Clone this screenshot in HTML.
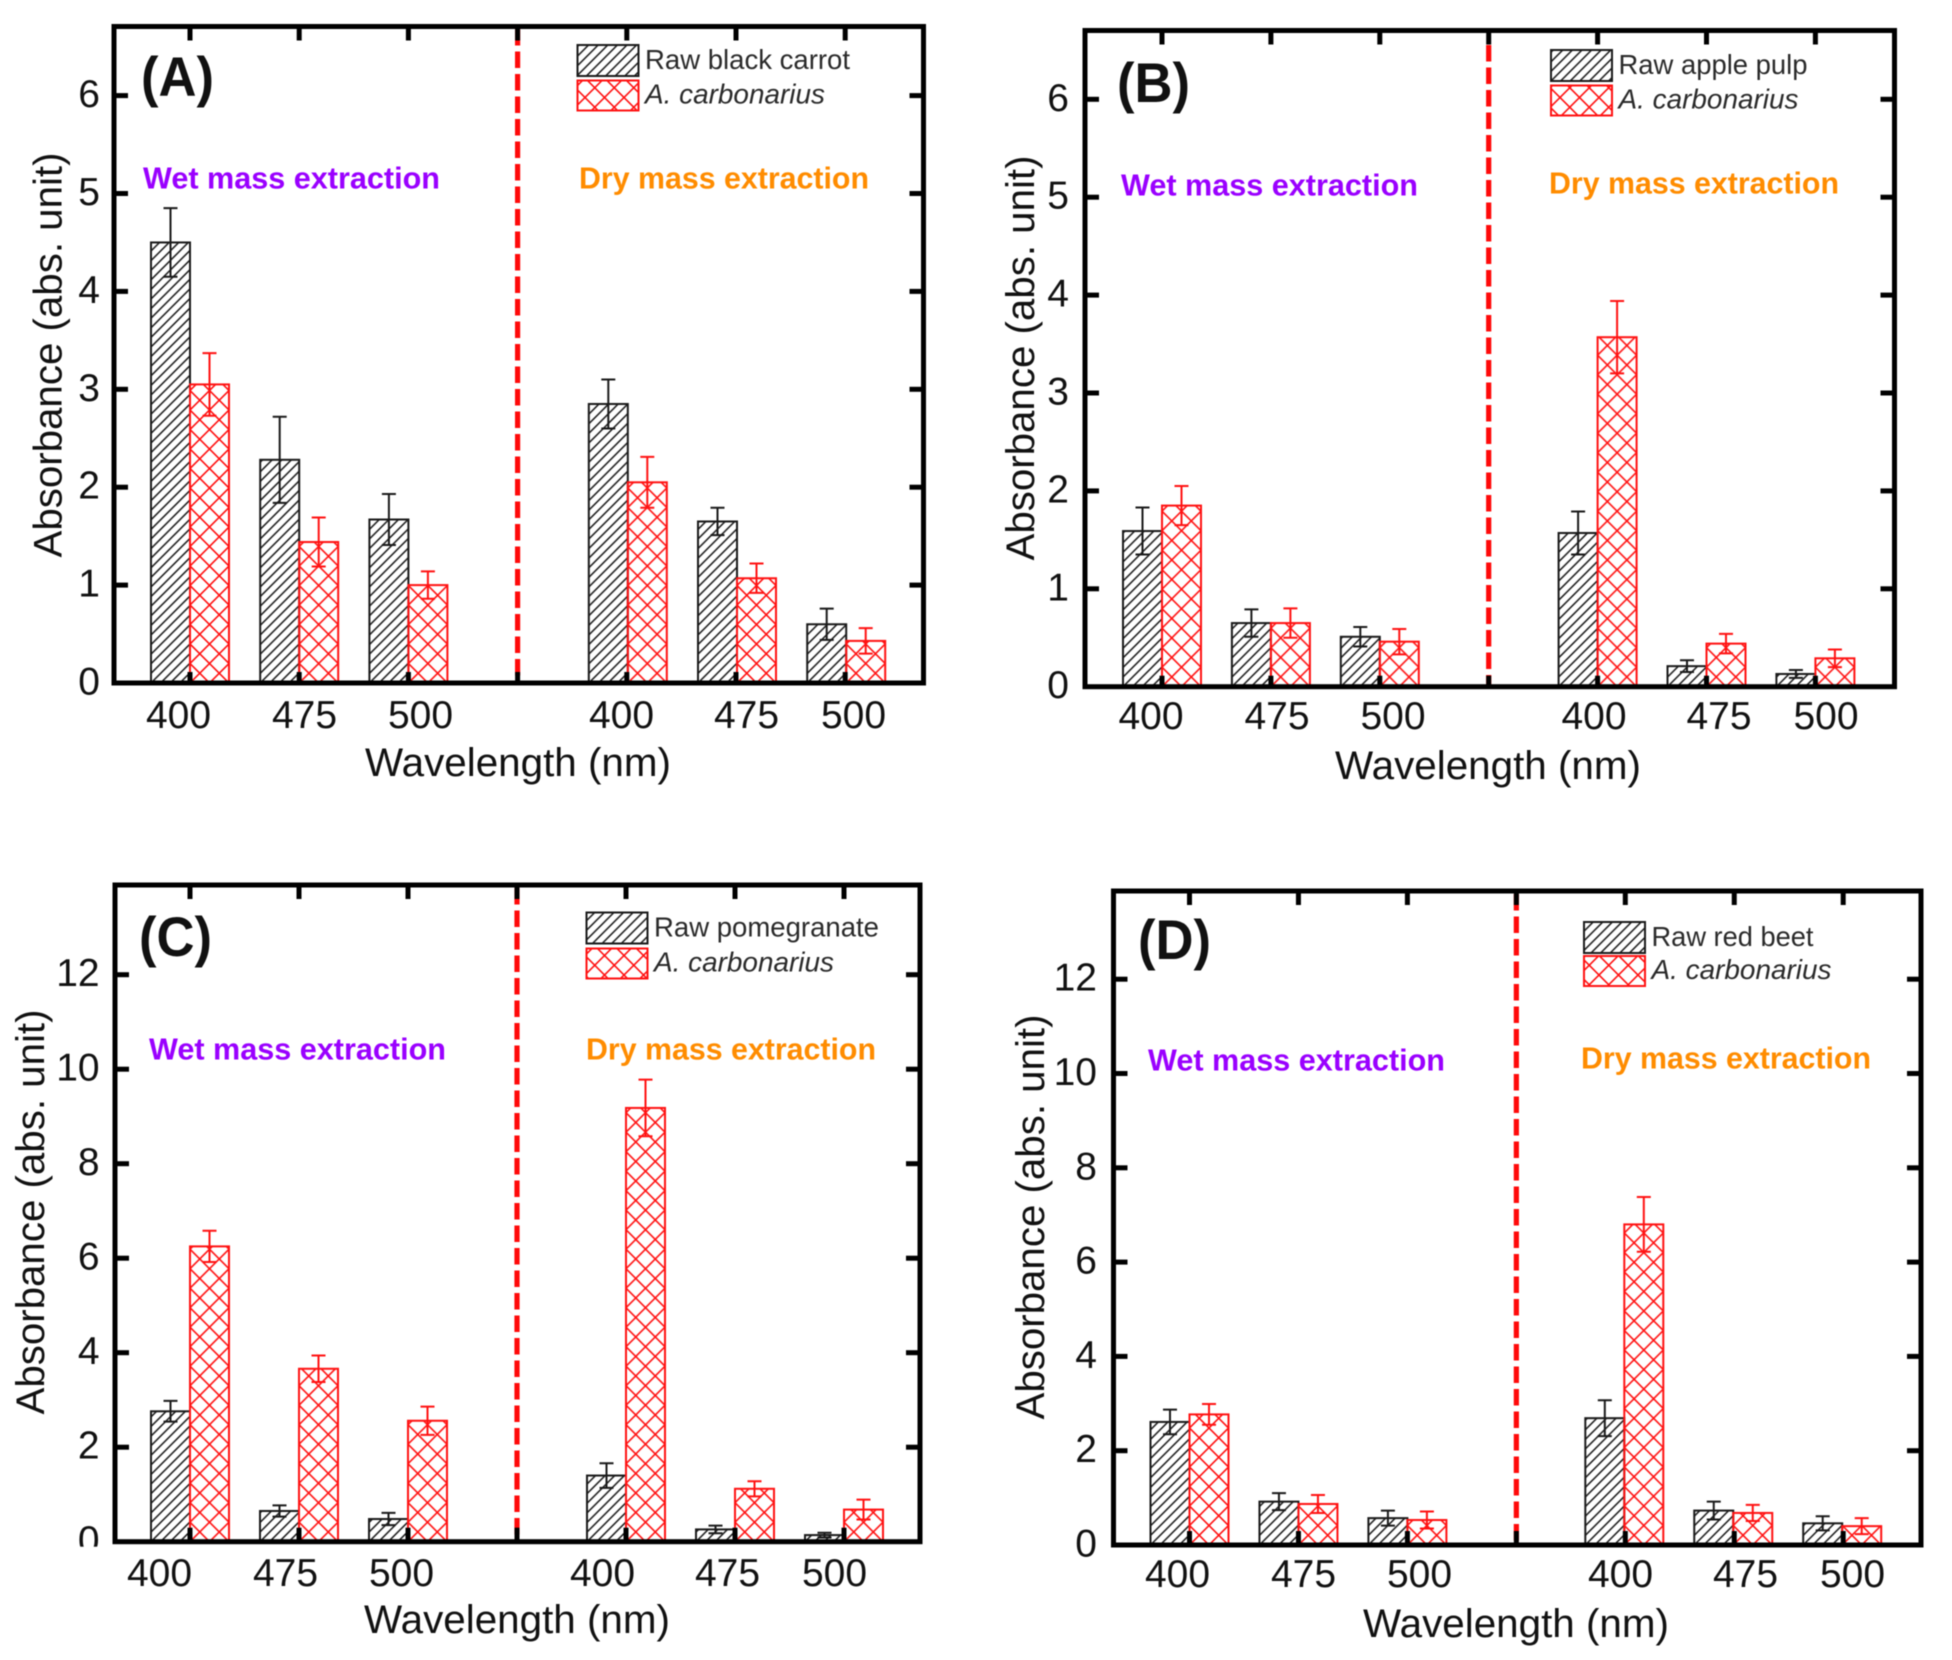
<!DOCTYPE html>
<html lang="en">
<head>
<meta charset="utf-8">
<title>Absorbance by wavelength: four-panel bar charts</title>
<style>
html,body{margin:0;padding:0;background:#fff;}
svg{display:block;filter:blur(0.5px);}
text{font-family:"Liberation Sans",Arial,sans-serif;}
</style>
</head>
<body>
<svg id="figure" xmlns="http://www.w3.org/2000/svg" width="1952" height="1660" viewBox="0 0 1952 1660">
  <defs>
    <pattern id="hatchBlack" width="9.6" height="9.6" patternUnits="userSpaceOnUse">
      <path d="M-2,2 L2,-2 M0,9.6 L9.6,0 M7.6,11.6 L11.6,7.6" stroke="#1a1a1a" stroke-width="1.5" fill="none"/>
    </pattern>
    <pattern id="hatchRed" width="19.5" height="19.5" patternUnits="userSpaceOnUse">
      <path d="M0,0 L19.5,19.5 M0,19.5 L19.5,0" stroke="#ff1212" stroke-width="1.6" fill="none"/>
    </pattern>
  </defs>
  <rect x="0" y="0" width="1952" height="1660" fill="#fff"/>
</svg>
<script>
// Shared labels
const categories = ['400', '475', '500', '400', '475', '500'];
const yTicksAB = [0, 1, 2, 3, 4, 5, 6];
const yTicksCD = [0, 2, 4, 6, 8, 10, 12];

// Panel A values (wet 400/475/500, dry 400/475/500)
const rawA = [4.5, 2.28, 1.67, 2.85, 1.65, 0.6];
const fungalA = [3.05, 1.44, 1.0, 2.05, 1.07, 0.43];
const rawErrA = [0.35, 0.44, 0.26, 0.25, 0.14, 0.16];
const fungalErrA = [0.32, 0.25, 0.14, 0.26, 0.15, 0.13];

// Panel B values
const rawB = [1.59, 0.65, 0.51, 1.57, 0.21, 0.13];
const fungalB = [1.85, 0.65, 0.46, 3.57, 0.44, 0.29];
const rawErrB = [0.24, 0.14, 0.1, 0.22, 0.06, 0.04];
const fungalErrB = [0.2, 0.15, 0.13, 0.37, 0.1, 0.09];

// Panel C values
const rawC = [2.76, 0.65, 0.48, 1.4, 0.26, 0.14];
const fungalC = [6.25, 3.66, 2.56, 9.18, 1.12, 0.68];
const rawErrC = [0.22, 0.12, 0.13, 0.26, 0.08, 0.05];
const fungalErrC = [0.33, 0.28, 0.3, 0.6, 0.16, 0.21];

// Panel D values
const rawD = [2.61, 0.92, 0.57, 2.69, 0.73, 0.46];
const fungalD = [2.77, 0.87, 0.53, 6.8, 0.68, 0.4];
const rawErrD = [0.26, 0.18, 0.16, 0.38, 0.19, 0.15];
const fungalErrD = [0.22, 0.19, 0.18, 0.58, 0.17, 0.17];

const legendRawA = 'Raw black carrot';
const legendRawB = 'Raw apple pulp';
const legendRawC = 'Raw pomegranate';
const legendRawD = 'Raw red beet';

const SVGNS = 'http://www.w3.org/2000/svg';
const figure = document.getElementById('figure');

function mk(parent, tag, attrs, txt) {
  const e = document.createElementNS(SVGNS, tag);
  for (const k in attrs) e.setAttribute(k, attrs[k]);
  if (txt !== undefined) e.textContent = txt;
  parent.appendChild(e);
  return e;
}

function yScale(p, v) { return p.y0 - v * p.unit; }
function xScale(p, slot) { return p.xStart + slot * p.xStep; }

function drawBar(g, p, slot, value, err, side, series) {
  const W = 39;
  const cx = xScale(p, slot) + (slot > 3 ? p.dryShift : 0);
  const x = side < 0 ? cx - W : cx;
  const y = yScale(p, value);
  const col = series === 'raw' ? '#1a1a1a' : '#ff1212';
  // Rect is anchored at its bottom-left corner so the hatch lines up with the bar edges.
  const rect = mk(g, 'rect', {x: 0, y: y - p.y0, width: W, height: p.y0 - y,
    transform: 'translate(' + x + ',' + p.y0 + ')',
    fill: 'url(#' + (series === 'raw' ? 'hatchBlack' : 'hatchRed') + ')',
    stroke: col, 'stroke-width': 2});
  
  

  const ex = x + W / 2;
  const yTop = yScale(p, value + err);
  const yLow = yScale(p, value - err);
  const eb = mk(g, 'path', {
    d: 'M' + ex + ',' + yTop + ' L' + ex + ',' + yLow +
       ' M' + (ex - 7) + ',' + yTop + ' L' + (ex + 7) + ',' + yTop +
       ' M' + (ex - 7) + ',' + yLow + ' L' + (ex + 7) + ',' + yLow,
    stroke: col, 'stroke-width': 2, fill: 'none'});
  
  
}

function drawPanel(p) {
  const g = mk(figure, 'g', {});
  
  

  const slots = [0, 1, 2, 4, 5, 6];
  slots.forEach(function (slot, i) {
    drawBar(g, p, slot, p.raw[i], p.rawErr[i], -1, 'raw');
    drawBar(g, p, slot, p.fungal[i], p.fungalErr[i], 1, 'fungal');
  });

  // divider
  const divX = xScale(p, 3);
  const divider = mk(g, 'line', {x1: divX, x2: divX, y1: p.divTop, y2: p.y0,
    stroke: '#ff0a0a', 'stroke-width': 5.2, 'stroke-dasharray': '16.5 6'});
  
  

  // x ticks, top and bottom
  for (let s = 0; s <= 6; s++) {
    const tx = xScale(p, s);
    const tickTop = mk(g, 'line', {x1: tx, x2: tx, y1: p.top, y2: p.top + 14, stroke: '#000', 'stroke-width': 5});
    
    
    const tickBottom = mk(g, 'line', {x1: tx, x2: tx, y1: p.y0, y2: p.y0 - p.tickBottomLen, stroke: '#000', 'stroke-width': 5});
    
    
  }

  // x tick labels (hand-placed in the source figure, same spacing on each panel)
  const labelGaps = [0, 126, 242, 443, 568, 675];
  categories.forEach(function (c, i) {
    const t = mk(g, 'text', {x: p.labelX + labelGaps[i], y: p.labelY + 14, 'font-size': 39, 'text-anchor': 'middle', fill: '#111'}, c);
    
    
  });

  // y ticks and labels
  p.yTicks.forEach(function (v) {
    const ty = yScale(p, v);
    if (v > 0) {
      const tl = mk(g, 'line', {x1: p.left, x2: p.left + 14, y1: ty, y2: ty, stroke: '#000', 'stroke-width': 5});
      
      
      const tr = mk(g, 'line', {x1: p.right, x2: p.right - 14, y1: ty, y2: ty, stroke: '#000', 'stroke-width': 5});
      
      
    }
    const lab = mk(g, 'text', {x: p.yLabelEnd, y: ty + 11.5, 'font-size': 39, 'text-anchor': 'end', fill: '#111'}, String(v));
    
    
  });

  if (p.clipZero) {
    const mask = mk(g, 'rect', {x: p.left - 60, y: p.y0 + 5, width: 57, height: 30, fill: '#fff'});
    
    
  }

  // frame
  const frame = mk(g, 'rect', {x: p.left, y: p.top, width: p.right - p.left, height: p.y0 - p.top,
    fill: 'none', stroke: '#000', 'stroke-width': 5});
  
  

  // axis titles
  const xt = mk(g, 'text', {x: p.xTitleX, y: p.xTitleY + 10, 'font-size': 40, 'text-anchor': 'middle',
    textLength: 306, lengthAdjust: 'spacingAndGlyphs', fill: '#111'}, 'Wavelength (nm)');
  
  

  const yt = mk(g, 'text', {x: 0, y: 0, 'font-size': 40, 'text-anchor': 'middle',
    textLength: 405, lengthAdjust: 'spacingAndGlyphs', fill: '#111',
    transform: 'translate(' + (p.yTitleX + 13) + ',' + p.yTitleY + ') rotate(-90)'}, 'Absorbance (abs. unit)');
  
  

  // panel letter
  const letter = mk(g, 'text', {x: p.letterX - 1, y: p.letterY + 15, 'font-size': 56, 'font-weight': 'bold', fill: '#111',
    textLength: 73, lengthAdjust: 'spacingAndGlyphs'}, '(' + p.id.toUpperCase() + ')');
  
  

  // group annotations
  const wet = mk(g, 'text', {x: p.wetX, y: p.wetY + 9.5, 'font-size': 30.5, 'font-weight': 'bold', fill: '#9a00ff',
    textLength: 297, lengthAdjust: 'spacingAndGlyphs'}, 'Wet mass extraction');
  
  
  const dry = mk(g, 'text', {x: p.dryX, y: p.dryY + 9.5, 'font-size': 30.5, 'font-weight': 'bold', fill: '#ff8c00',
    textLength: 290, lengthAdjust: 'spacingAndGlyphs'}, 'Dry mass extraction');
  
  

  // legend
  const lg = mk(g, 'g', {});
  
  
  const sw1 = mk(lg, 'rect', {x: p.legX, y: p.legY1, width: 61, height: 31, fill: 'url(#hatchBlack)', stroke: '#1a1a1a', 'stroke-width': 2});
  
  
  const sw2 = mk(lg, 'rect', {x: p.legX, y: p.legY2, width: 61, height: 30, fill: 'url(#hatchRed)', stroke: '#ff1212', 'stroke-width': 2});
  
  
  const lt1 = mk(lg, 'text', {x: p.legX + 67.5, y: p.legY1 + 24, 'font-size': 28, fill: '#2a2a2a',
    textLength: p.legLen1 + 2, lengthAdjust: 'spacingAndGlyphs'}, p.legendText);
  
  
  const lt2 = mk(lg, 'text', {x: p.legX + 67.5, y: p.legY2 + 23, 'font-size': 28, 'font-style': 'italic', fill: '#2a2a2a',
    textLength: 180, lengthAdjust: 'spacingAndGlyphs'}, 'A. carbonarius');
  
  
}

drawPanel({id: 'a', raw: rawA, fungal: fungalA, rawErr: rawErrA, fungalErr: fungalErrA, yTicks: yTicksAB, legendText: legendRawA,
  left: 114, right: 923.5, top: 26.5, y0: 683, unit: 97.9, xStart: 190, xStep: 109.2, dryShift: 1, divTop: 29, tickBottomLen: 11,
  labelX: 178.5, labelY: 714, yLabelEnd: 100, xTitleX: 518, xTitleY: 766, yTitleX: 48.5, yTitleY: 355,
  letterX: 142, letterY: 81, wetX: 143, wetY: 179, dryX: 579, dryY: 179,
  legX: 577.5, legY1: 45, legY2: 80.5, legLen1: 203});

drawPanel({id: 'b', raw: rawB, fungal: fungalB, rawErr: rawErrB, fungalErr: fungalErrB, yTicks: yTicksAB, legendText: legendRawB,
  left: 1085, right: 1894.5, top: 30.5, y0: 686.7, unit: 97.9, xStart: 1162, xStep: 108.9, dryShift: 0, divTop: 45, tickBottomLen: 11,
  labelX: 1151, labelY: 715, yLabelEnd: 1069, xTitleX: 1488, xTitleY: 769, yTitleX: 1021, yTitleY: 358,
  letterX: 1118, letterY: 87, wetX: 1121, wetY: 186, dryX: 1549, dryY: 184,
  legX: 1551, legY1: 50, legY2: 85.5, legLen1: 187});

drawPanel({id: 'c', raw: rawC, fungal: fungalC, rawErr: rawErrC, fungalErr: fungalErrC, yTicks: yTicksCD, legendText: legendRawC, clipZero: true,
  left: 115, right: 920, top: 885, y0: 1541.7, unit: 47.25, xStart: 190, xStep: 109.0, dryShift: 0, divTop: 888, tickBottomLen: 14,
  labelX: 159.5, labelY: 1572, yLabelEnd: 99.6, xTitleX: 517, xTitleY: 1623, yTitleX: 31, yTitleY: 1212,
  letterX: 140, letterY: 941, wetX: 149, wetY: 1050, dryX: 586, dryY: 1050,
  legX: 586.5, legY1: 912.5, legY2: 948.5, legLen1: 223});

drawPanel({id: 'd', raw: rawD, fungal: fungalD, rawErr: rawErrD, fungalErr: fungalErrD, yTicks: yTicksCD, legendText: legendRawD,
  left: 1113.5, right: 1921, top: 891, y0: 1545, unit: 47.15, xStart: 1189.5, xStep: 108.95, dryShift: -1, divTop: 894, tickBottomLen: 14,
  labelX: 1177.5, labelY: 1573, yLabelEnd: 1097, xTitleX: 1516, xTitleY: 1627, yTitleX: 1031, yTitleY: 1217,
  letterX: 1139, letterY: 944, wetX: 1148, wetY: 1061, dryX: 1581, dryY: 1059,
  legX: 1584, legY1: 922, legY2: 956, legLen1: 160});
</script>
</body>
</html>
